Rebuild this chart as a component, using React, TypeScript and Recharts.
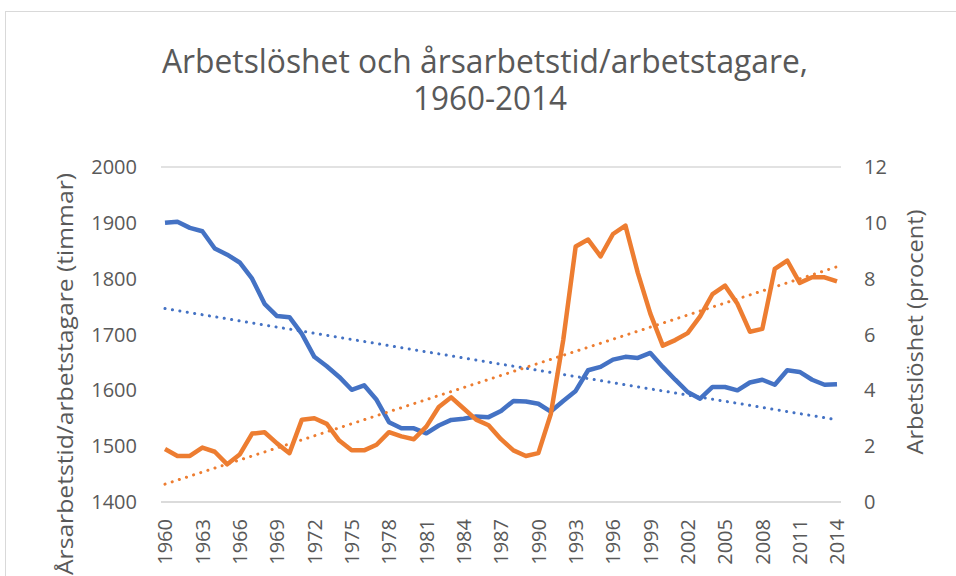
import { LineChart, Line, XAxis, YAxis, CartesianGrid } from 'recharts'

// Årtal (kategorier)
const years = [
  1960, 1961, 1962, 1963, 1964, 1965, 1966, 1967, 1968, 1969,
  1970, 1971, 1972, 1973, 1974, 1975, 1976, 1977, 1978, 1979,
  1980, 1981, 1982, 1983, 1984, 1985, 1986, 1987, 1988, 1989,
  1990, 1991, 1992, 1993, 1994, 1995, 1996, 1997, 1998, 1999,
  2000, 2001, 2002, 2003, 2004, 2005, 2006, 2007, 2008, 2009,
  2010, 2011, 2012, 2013, 2014,
]

// Årsarbetstid per arbetstagare (timmar), vänster axel
const hours = [
  1900, 1902, 1891, 1885, 1854, 1843, 1829, 1800, 1755, 1733,
  1731, 1701, 1660, 1643, 1624, 1601, 1609, 1583, 1543, 1532,
  1532, 1523, 1537, 1547, 1549, 1553, 1552, 1563, 1581, 1580,
  1576, 1562, 1581, 1599, 1636, 1642, 1655, 1660, 1658, 1667,
  1642, 1619, 1597, 1585, 1606, 1606, 1600, 1614, 1619, 1610,
  1636, 1633, 1619, 1610, 1611,
]

// Arbetslöshet (procent), höger axel
const unemployment = [
  1.9, 1.65, 1.65, 1.95, 1.8, 1.35, 1.7, 2.45, 2.5, 2.1,
  1.75, 2.95, 3.0, 2.8, 2.2, 1.85, 1.85, 2.05, 2.5, 2.35,
  2.25, 2.7, 3.4, 3.75, 3.35, 2.95, 2.75, 2.25, 1.85, 1.65,
  1.75, 3.15, 5.8, 9.15, 9.4, 8.8, 9.6, 9.9, 8.2, 6.75,
  5.6, 5.8, 6.05, 6.65, 7.45, 7.75, 7.1, 6.1, 6.2, 8.35,
  8.65, 7.85, 8.05, 8.05, 7.9,
]

const leftTicks = [1400, 1500, 1600, 1700, 1800, 1900, 2000]
const rightTicks = [0, 2, 4, 6, 8, 10, 12]

const BLUE = '#4472C4'
const ORANGE = '#ED7D31'
const TEXT = '#595959'
const GRID = '#d9d9d9'
const FONT = '"Open Sans", sans-serif'

// linjär trendlinje (minsta kvadrat) som i Excel
function trend(values: number[]) {
  const n = values.length
  const xs = values.map((_, i) => i)
  const mx = xs.reduce((a, b) => a + b, 0) / n
  const my = values.reduce((a, b) => a + b, 0) / n
  let num = 0
  let den = 0
  xs.forEach((x, i) => {
    num += (x - mx) * (values[i] - my)
    den += (x - mx) * (x - mx)
  })
  const k = num / den
  return xs.map((x) => my + k * (x - mx))
}

const hoursTrend = trend(hours)
const unempTrend = trend(unemployment)

const data = years.map((year, i) => ({
  year,
  hours: hours[i],
  unemployment: unemployment[i],
  hoursTrend: hoursTrend[i],
  unempTrend: unempTrend[i],
}))

function YearTick({ x, y, payload }: any) {
  const ty = y + 15
  return (
    <text
      x={x}
      y={ty}
      transform={`rotate(-90 ${x} ${ty})`}
      textAnchor="end"
      dy="0.36em"
      fill={TEXT}
      fontSize={20}
      fontFamily={FONT}
    >
      {payload.value}
    </text>
  )
}

export default function App() {
  return (
    <div
      style={{
        position: 'absolute',
        left: 0,
        top: 0,
        width: 956,
        height: 576,
        background: '#fff',
        overflow: 'hidden',
      }}
    >
      <div
        style={{
          position: 'absolute',
          left: 5,
          top: 11,
          width: 1100,
          height: 700,
          border: `1px solid ${GRID}`,
        }}
      />
      <div style={{ position: 'absolute', left: 0, top: 0 }}>
        <LineChart
          width={956}
          height={576}
          data={data}
          margin={{ top: 167, right: 55, bottom: 4, left: 101 }}
        >
          <CartesianGrid vertical={false} stroke={GRID} strokeWidth={1.3} />
          <XAxis
            dataKey="year"
            interval={2}
            tick={<YearTick />}
            tickLine={false}
            tickSize={0}
            axisLine={{ stroke: GRID, strokeWidth: 1.3 }}
            height={70}
            padding={{ left: 4, right: 4 }}
          />
          <YAxis
            yAxisId="left"
            domain={[1400, 2000]}
            ticks={leftTicks}
            width={60}
            axisLine={false}
            tickLine={false}
            tickSize={0}
            tickMargin={24}
            tick={{ fill: TEXT, fontSize: 20, fontFamily: FONT }}
          />
          <YAxis
            yAxisId="right"
            orientation="right"
            domain={[0, 12]}
            ticks={rightTicks}
            width={60}
            axisLine={false}
            tickLine={false}
            tickSize={0}
            tickMargin={23}
            tick={{ fill: TEXT, fontSize: 20, fontFamily: FONT, textAnchor: 'start' }}
          />
          <Line
            yAxisId="left"
            dataKey="hours"
            type="linear"
            stroke={BLUE}
            strokeWidth={4.5}
            strokeLinejoin="round"
            dot={false}
            isAnimationActive={false}
          />
          <Line
            yAxisId="left"
            dataKey="hoursTrend"
            type="linear"
            stroke={BLUE}
            strokeWidth={3}
            strokeDasharray="0.1 7.4"
            strokeLinecap="round"
            dot={false}
            isAnimationActive={false}
          />
          <Line
            yAxisId="right"
            dataKey="unemployment"
            type="linear"
            stroke={ORANGE}
            strokeWidth={4.5}
            strokeLinejoin="round"
            dot={false}
            isAnimationActive={false}
          />
          <Line
            yAxisId="right"
            dataKey="unempTrend"
            type="linear"
            stroke={ORANGE}
            strokeWidth={3}
            strokeDasharray="0.1 7.4"
            strokeLinecap="round"
            dot={false}
            isAnimationActive={false}
          />
        </LineChart>
      </div>
      <svg
        width={956}
        height={576}
        style={{ position: 'absolute', left: 0, top: 0, pointerEvents: 'none' }}
      >
        <g fill={TEXT} fontFamily={FONT}>
          <text x={485} y={73} textAnchor="middle" fontSize={32} textLength={646} lengthAdjust="spacingAndGlyphs">
            Arbetslöshet och årsarbetstid/arbetstagare,
          </text>
          <text x={490} y={110} textAnchor="middle" fontSize={32} textLength={154} lengthAdjust="spacingAndGlyphs">
            1960-2014
          </text>
          <text
            x={65}
            y={374}
            transform="rotate(-90 65 374)"
            textAnchor="middle"
            dy="0.36em"
            fontSize={21}
            textLength={402}
            lengthAdjust="spacingAndGlyphs"
          >
            Årsarbetstid/arbetstagare (timmar)
          </text>
          <text
            x={915}
            y={332}
            transform="rotate(-90 915 332)"
            textAnchor="middle"
            dy="0.36em"
            fontSize={21}
            textLength={245}
            lengthAdjust="spacingAndGlyphs"
          >
            Arbetslöshet (procent)
          </text>
        </g>
      </svg>
    </div>
  )
}
